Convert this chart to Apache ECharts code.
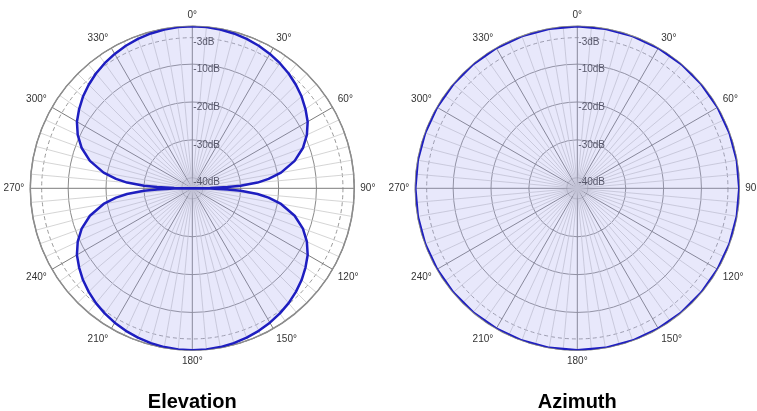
<!DOCTYPE html>
<html>
<head>
<meta charset="utf-8">
<script src="https://cdn.jsdelivr.net/npm/echarts@6/dist/echarts.min.js"></script>
<style>
html,body{margin:0;padding:0;background:#ffffff;}
#chart{width:757px;height:411px;}
</style>
</head>
<body>
<div id="chart"></div>
<script>
// ---- data ----
const chartTitles = ['Elevation', 'Azimuth'];
const angleTickValues = [0, 30, 60, 90, 120, 150, 180, 210, 240, 270, 300, 330];
const dbGridTicks = [-40, -30, -20, -10];
const dbGridLabels = ['-40dB', '-30dB', '-20dB', '-10dB'];
const dbHalfPowerTick = -3;
const dbHalfPowerLabel = '-3dB';

// Elevation pattern: angle (deg, clockwise from top) and level (dB)
const elevAngles = [0, 5, 10, 15, 20, 25, 30, 35, 40, 45, 50, 55, 60, 65, 70, 75, 80, 83, 85, 87, 88, 89, 90,
  91, 92, 93, 95, 97, 100, 105, 110, 115, 120, 125, 130, 135, 140, 145, 150, 155, 160, 165, 170, 175, 180,
  185, 190, 195, 200, 205, 210, 215, 220, 225, 230, 235, 240, 245, 250, 255, 260, 263, 265, 267, 268, 269, 270,
  271, 272, 273, 275, 277, 280, 285, 290, 295, 300, 305, 310, 315, 320, 325, 330, 335, 340, 345, 350, 355, 360];
const elevDb = [0, -0.05, -0.2, -0.45, -0.8, -1.25, -1.8, -2.45, -3.2, -4.1, -5.1, -6.3, -7.6, -9.4, -11.7, -14.8, -19, -22.5, -25.5, -30, -33.5, -38, -42.8,
  -38, -33.5, -30, -25.5, -22.5, -19, -14.8, -11.7, -9.4, -7.6, -6.3, -5.1, -4.1, -3.2, -2.45, -1.8, -1.25, -0.8, -0.45, -0.2, -0.05, 0,
  -0.05, -0.2, -0.45, -0.8, -1.25, -1.8, -2.45, -3.2, -4.1, -5.1, -6.3, -7.6, -9.4, -11.7, -14.8, -19, -22.5, -25.5, -30, -33.5, -38, -42.8,
  -38, -33.5, -30, -25.5, -22.5, -19, -14.8, -11.7, -9.4, -7.6, -6.3, -5.1, -4.1, -3.2, -2.45, -1.8, -1.25, -0.8, -0.45, -0.2, -0.05, 0];

// Azimuth pattern: omnidirectional
const aziAngles = [0, 10, 20, 30, 40, 50, 60, 70, 80, 90, 100, 110, 120, 130, 140, 150, 160, 170, 180,
  190, 200, 210, 220, 230, 240, 250, 260, 270, 280, 290, 300, 310, 320, 330, 340, 350, 360];
const aziDb = [0, 0, 0, 0, 0, 0, 0, 0, 0, 0, 0, 0, 0, 0, 0, 0, 0, 0, 0,
  0, 0, 0, 0, 0, 0, 0, 0, 0, 0, 0, 0, 0, 0, 0, 0, 0, 0];

// ---- layout / style ----
const FONT = '"Liberation Sans", Arial, Helvetica, sans-serif';
const CENTERS = [[192.3, 188.3], [577.3, 188.3]];
const R = 162;
const DB_MIN = -42.8, DB_MAX = 0;
function radiusFor(db) { return R * (db - DB_MIN) / (DB_MAX - DB_MIN); }

const polar = [], angleAxis = [], radiusAxis = [], series = [], graphic = [];

const patterns = [[elevAngles, elevDb], [aziAngles, aziDb]];

patterns.forEach(function (p, i) {
  const c = CENTERS[i];
  const base = polar.length;
  polar.push({ center: c, radius: [0, R] });
  polar.push({ center: c, radius: [radiusFor(dbGridTicks[0]), R] });
  polar.push({ center: c, radius: [radiusFor(dbHalfPowerTick), R] });

  angleAxis.push({
    polarIndex: base, type: 'value', min: 0, max: 360, interval: 30,
    startAngle: 90, clockwise: true,
    axisLine: { show: true, lineStyle: { color: '#8c8c8c', width: 1.5 } },
    axisTick: { show: false },
    minorTick: { show: false, splitNumber: 6 },
    axisLabel: {
      margin: 6, fontSize: 10, color: '#333', fontFamily: FONT,
      formatter: function (v) { return angleTickValues.indexOf(v) >= 0 ? v + '°' : ''; }
    },
    splitLine: { show: true, lineStyle: { color: '#7c7c7c', width: 1 } },
    minorSplitLine: { show: true, lineStyle: { color: '#cacaca', width: 0.8 } }
  });
  radiusAxis.push({
    polarIndex: base, type: 'value', min: DB_MIN, max: DB_MAX, show: false
  });

  angleAxis.push({ polarIndex: base + 1, type: 'value', min: 0, max: 360, startAngle: 90, show: false });
  radiusAxis.push({
    polarIndex: base + 1, type: 'value', min: dbGridTicks[0], max: 0, interval: 10,
    axisLine: { show: false }, axisTick: { show: false },
    splitLine: { show: true, lineStyle: { color: '#8a8a8a', width: 1 } },
    axisLabel: {
      show: true, margin: -1, align: 'left', verticalAlign: 'top',
      fontSize: 10, color: '#3a3a3a', fontFamily: FONT,
      formatter: function (v) { const k = dbGridTicks.indexOf(v); return k >= 0 ? dbGridLabels[k] : ''; }
    }
  });

  angleAxis.push({ polarIndex: base + 2, type: 'value', min: 0, max: 360, startAngle: 90, show: false });
  radiusAxis.push({
    polarIndex: base + 2, type: 'value', min: dbHalfPowerTick, max: 0, interval: 3,
    axisLine: { show: false }, axisTick: { show: false },
    splitLine: { show: true, lineStyle: { color: '#9a9a9a', width: 1, type: [4, 3] } },
    axisLabel: {
      show: true, margin: -1, align: 'left', verticalAlign: 'top',
      fontSize: 10, color: '#3a3a3a', fontFamily: FONT,
      formatter: function (v) { return v === dbHalfPowerTick ? dbHalfPowerLabel : ''; }
    }
  });

  series.push({
    type: 'line', coordinateSystem: 'polar', polarIndex: base,
    data: p[0].map(function (a, k) { return [p[1][k], a]; }),
    symbol: 'none', smooth: false, clip: false, animation: false,
    lineStyle: { color: '#1e1ec0', width: 2.5 },
    areaStyle: { color: 'rgba(170,170,240,0.38)', origin: 'start' },
    z: 2
  });

  graphic.push({
    type: 'text', x: c[0], y: 402,
    style: { text: chartTitles[i], align: 'center', verticalAlign: 'middle',
      font: 'bold 20px ' + FONT, fill: '#000' }
  });
});

const chart = echarts.init(document.getElementById('chart'), null, { renderer: 'canvas' });
chart.setOption({
  animation: false,
  backgroundColor: '#ffffff',
  polar: polar,
  angleAxis: angleAxis,
  radiusAxis: radiusAxis,
  series: series,
  graphic: graphic
});
</script>
</body>
</html>
